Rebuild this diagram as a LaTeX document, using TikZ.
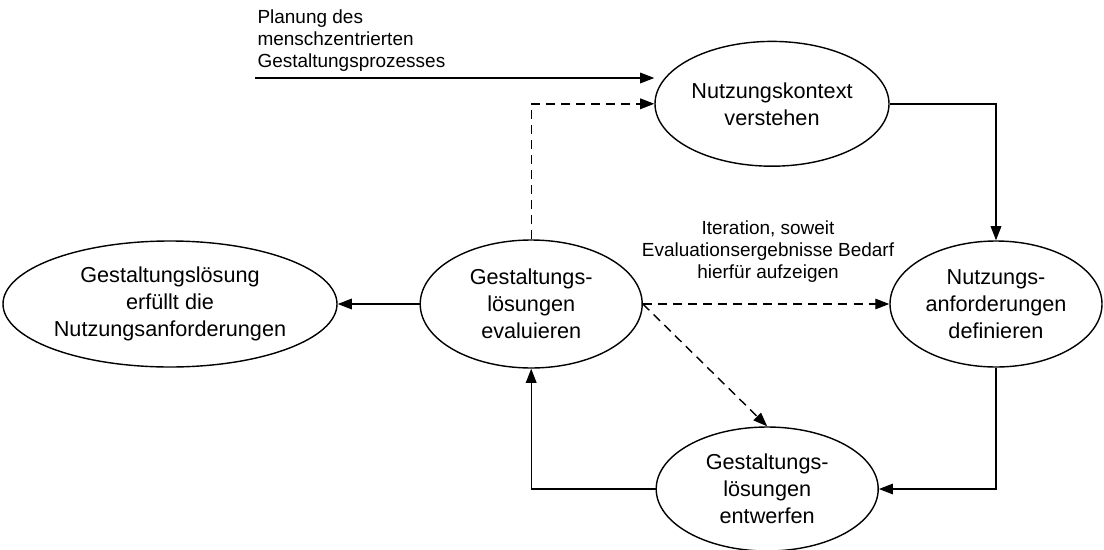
\documentclass[tikz,border=0pt]{standalone}
\usepackage{fontspec}
\setmainfont{Liberation Sans}
\usetikzlibrary{shapes.geometric,arrows.meta}

\begin{document}
\begin{tikzpicture}
  [>={Triangle[length=10pt,width=7.5pt]},line width=1pt,
   phase/.style={ellipse,draw,inner sep=0pt,align=center,font=\fontsize{15.4}{19.2}\selectfont},
   note/.style={inner sep=0pt,font=\fontsize{13.5}{15.6}\selectfont},
   iter/.style={dash pattern=on 6.4pt off 4.3pt}]
  \useasboundingbox (0,0) rectangle (27.6,13.725);
  \node[phase,minimum width=5.85cm,minimum height=3.12cm] (P_K) at (19.3,11.13) {Nutzungskontext\\verstehen};
  \node[phase,minimum width=5.3cm,minimum height=3.15cm] (P_A) at (24.9,6.125) {Nutzungs-\\anforderungen\\definieren};
  \node[phase,minimum width=5.55cm,minimum height=3.1cm] (P_E) at (19.18,1.5) {Gestaltungs-\\lösungen\\entwerfen};
  \node[phase,minimum width=5.55cm,minimum height=3.2cm] (P_V) at (13.28,6.125) {Gestaltungs-\\lösungen\\evaluieren};
  \node[phase,minimum width=8.35cm,minimum height=3.15cm] (P_Z) at (4.25,6.125) {Gestaltungslösung\\erfüllt die\\Nutzungsanforderungen};
  \node[note,align=left,anchor=west] (T_plan) at (6.42,12.7) {Planung des\\menschzentrierten\\Gestaltungsprozesses};
  \node[note,align=center] (T_iter) at (19.2,7.425) {Iteration, soweit\\Evaluationsergebnisse Bedarf\\hierfür aufzeigen};
  \coordinate (plan) at (6.375,11.775);

  \draw[->] (plan) -- (plan -| P_K.west);
  \draw[->] (P_K.east) -| (P_A.north);
  \draw[->] (P_A.south) |- (P_E.east);
  \draw[->] (P_E.west) -| (P_V.south);
  \draw[->] (P_V.west) -- (P_Z.east);
  % iteration
  \draw[->,iter] (P_V.north) |- (P_K.west);
  \draw[->,iter] (P_V.east) -- (P_A.west);
  \draw[->,iter] (P_V.east) -- (P_E.north);

\end{tikzpicture}
\end{document}
